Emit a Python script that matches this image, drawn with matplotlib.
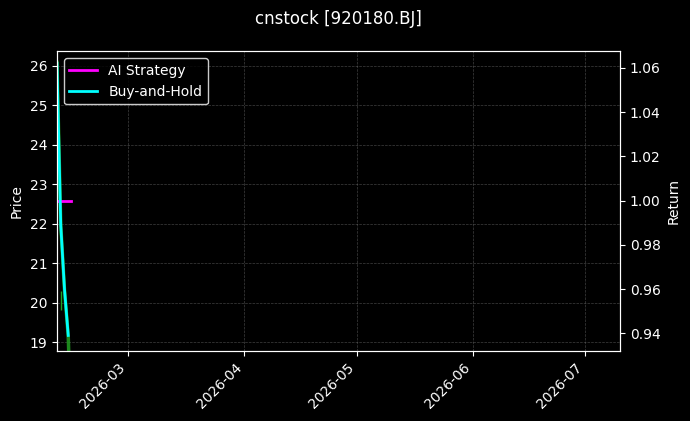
import numpy as np
import pandas as pd
import matplotlib
matplotlib.use('Agg')
import matplotlib.pyplot as plt
import matplotlib.dates as mdates

#values
price_dates=pd.to_datetime(['2026-02-10 00:00','2026-02-11 00:00','2026-02-12 00:00','2026-02-13 00:00','2026-02-13 06:00'])
price=[26.08,21.97,20.32,19.15,18.40]
wick_date=pd.to_datetime(['2026-02-11 02:00'])
wick_low=[19.80]
wick_high=[20.30]

bh_dates=pd.to_datetime(['2026-02-10 00:00','2026-02-11 00:00','2026-02-12 00:00','2026-02-13 00:00'])
bh_return=[1.062,0.989,0.960,0.939]

ai_dates=pd.to_datetime(['2026-02-10 00:00','2026-02-13 18:00'])
ai_return=[1.0,1.0]

ticker='cnstock [920180.BJ]'

plt.style.use('dark_background')
fig,ax1=plt.subplots(figsize=(6.9,4.21),dpi=100)
fig.subplots_adjust(left=0.0826,right=0.8986,top=0.878,bottom=0.167)
ax2=ax1.twinx()

#price on the left axis
ax1.plot(price_dates,price,color='#22a022',linewidth=2.5,alpha=0.85)
ax1.vlines(wick_date,wick_low,wick_high,color='#22a022',linewidth=1)
ax1.set_ylabel('Price')
ax1.set_ylim(18.78,26.36)
ax1.grid(True,linestyle='--',linewidth=0.5,color='gray',alpha=0.5)

#returns on the right axis
ax2.plot(ai_dates,ai_return,color='magenta',linewidth=2,label='AI Strategy')
ax2.plot(bh_dates,bh_return,color='cyan',linewidth=2,label='Buy-and-Hold')
ax2.set_ylabel('Return')
ax2.set_ylim(0.9321,1.0675)
ax2.set_yticks([0.94,0.96,0.98,1.00,1.02,1.04,1.06])

ax1.set_xlim(pd.Timestamp('2026-02-10'),pd.Timestamp('2026-07-10 07:00'))
ax1.xaxis.set_major_locator(mdates.MonthLocator())
ax1.xaxis.set_major_formatter(mdates.DateFormatter('%Y-%m'))
for lab in ax1.get_xticklabels():
    lab.set_rotation(45)
    lab.set_ha('right')

ax2.legend(loc='upper left',facecolor='black',edgecolor='white')
ax1.set_title(ticker,fontsize=12,pad=20)

fig.savefig('out.png',dpi=100)
